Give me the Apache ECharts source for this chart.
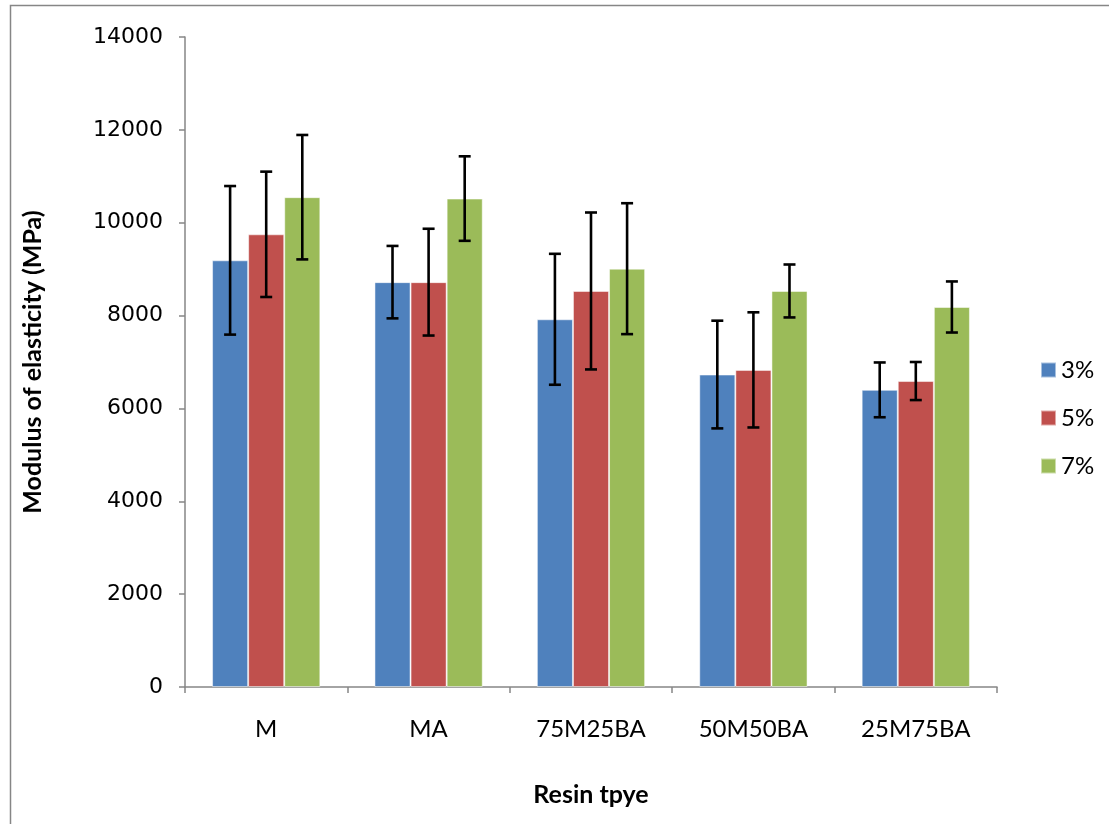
<!DOCTYPE html>
<html><head><meta charset="utf-8">
<script src="https://cdn.jsdelivr.net/npm/echarts@6/dist/echarts.min.js"></script>
<style>html,body{margin:0;padding:0;background:#fff}#c{width:1109px;height:824px}</style>
</head><body><div id="c"></div>
<script>
const categories = ['M', 'MA', '75M25BA', '50M50BA', '25M75BA'];
const seriesNames = ['3%', '5%', '7%'];
const values3 = [9190, 8720, 7920, 6730, 6400];
const values5 = [9750, 8720, 8530, 6830, 6590];
const values7 = [10550, 10520, 9010, 8530, 8185];
const err3 = [1600, 780, 1410, 1160, 590];
const err5 = [1350, 1150, 1690, 1240, 410];
const err7 = [1340, 910, 1410, 570, 550];
const yTicks = [0, 2000, 4000, 6000, 8000, 10000, 12000, 14000];

const colors = ['#4F81BD', '#C0504D', '#9BBB59'];
const allValues = [values3, values5, values7];
const allErrs = [err3, err5, err7];
const catGap = 1.5 / 4.5;

const chart = echarts.init(document.getElementById('c'), null, {renderer: 'canvas'});

function errSeries(idx) {
  const data = categories.map((c, i) => [i, allValues[idx][i] - allErrs[idx][i], allValues[idx][i] + allErrs[idx][i]]);
  return {
    type: 'custom',
    name: seriesNames[idx] + ' err',
    z: 10,
    silent: true,
    data: data,
    encode: {x: 0, y: [1, 2]},
    renderItem: function (params, api) {
      const ci = api.value(0);
      const lo = api.coord([ci, api.value(1)]);
      const hi = api.coord([ci, api.value(2)]);
      const catW = api.size([1, 0])[0];
      const bw = catW * (1 - catGap) / 3;
      const x = lo[0] + (idx - 1) * bw;
      const cap = 6;
      const st = {stroke: '#000', lineWidth: 2.6};
      return {
        type: 'group',
        children: [
          {type: 'line', shape: {x1: x, y1: lo[1], x2: x, y2: hi[1]}, style: st},
          {type: 'line', shape: {x1: x - cap, y1: lo[1], x2: x + cap, y2: lo[1]}, style: st},
          {type: 'line', shape: {x1: x - cap, y1: hi[1], x2: x + cap, y2: hi[1]}, style: st}
        ]
      };
    }
  };
}

const barSeries = seriesNames.map((n, i) => ({
  type: 'bar',
  name: n,
  data: allValues[i],
  barGap: '0%',
  barCategoryGap: (catGap * 100).toFixed(2) + '%',
  itemStyle: {color: colors[i], borderColor: 'rgba(255,255,255,0.5)', borderWidth: 1}
}));

chart.setOption({
  animation: false,
  backgroundColor: '#fff',
  graphic: [{
    type: 'rect', left: 8, top: 3, z: 100, silent: true,
    shape: {width: 1200, height: 1000},
    style: {fill: 'none', stroke: '#868686', lineWidth: 1.5}
  }],
  grid: {left: 185, top: 37, right: 112, bottom: 137, containLabel: false},
  legend: {
    orient: 'vertical',
    left: 1035, top: 353,
    data: seriesNames,
    itemWidth: 15, itemHeight: 15, itemGap: 24,
    icon: 'rect',
    textStyle: {fontFamily: 'Lato', fontSize: 24, color: '#000', padding: [0, 0, 0, 0]}
  },
  xAxis: {
    type: 'category',
    data: categories,
    name: 'Resin tpye',
    nameLocation: 'middle',
    nameGap: 95,
    nameTextStyle: {fontFamily: 'Lato', fontWeight: 'bold', fontSize: 25, color: '#000'},
    axisLine: {lineStyle: {color: '#868686', width: 1.5}},
    axisTick: {show: true, alignWithLabel: false, length: 6, lineStyle: {color: '#868686', width: 1.5}},
    axisLabel: {fontFamily: 'Lato', fontSize: 24, color: '#000', margin: 30}
  },
  yAxis: {
    type: 'value',
    min: yTicks[0], max: yTicks[yTicks.length - 1], interval: 2000,
    name: 'Modulus of elasticity (MPa)',
    nameLocation: 'middle',
    nameGap: 140,
    nameTextStyle: {fontFamily: 'Lato', fontWeight: 'bold', fontSize: 25, color: '#000'},
    axisLine: {show: true, lineStyle: {color: '#868686', width: 1.5}},
    axisTick: {show: true, length: 6, lineStyle: {color: '#868686', width: 1.5}},
    splitLine: {show: false},
    axisLabel: {fontFamily: 'DejaVu Sans', fontSize: 22, color: '#000', margin: 22,
      formatter: function (v) { return String(v); }}
  },
  series: barSeries.concat([0, 1, 2].map(errSeries))
});
</script></body></html>
